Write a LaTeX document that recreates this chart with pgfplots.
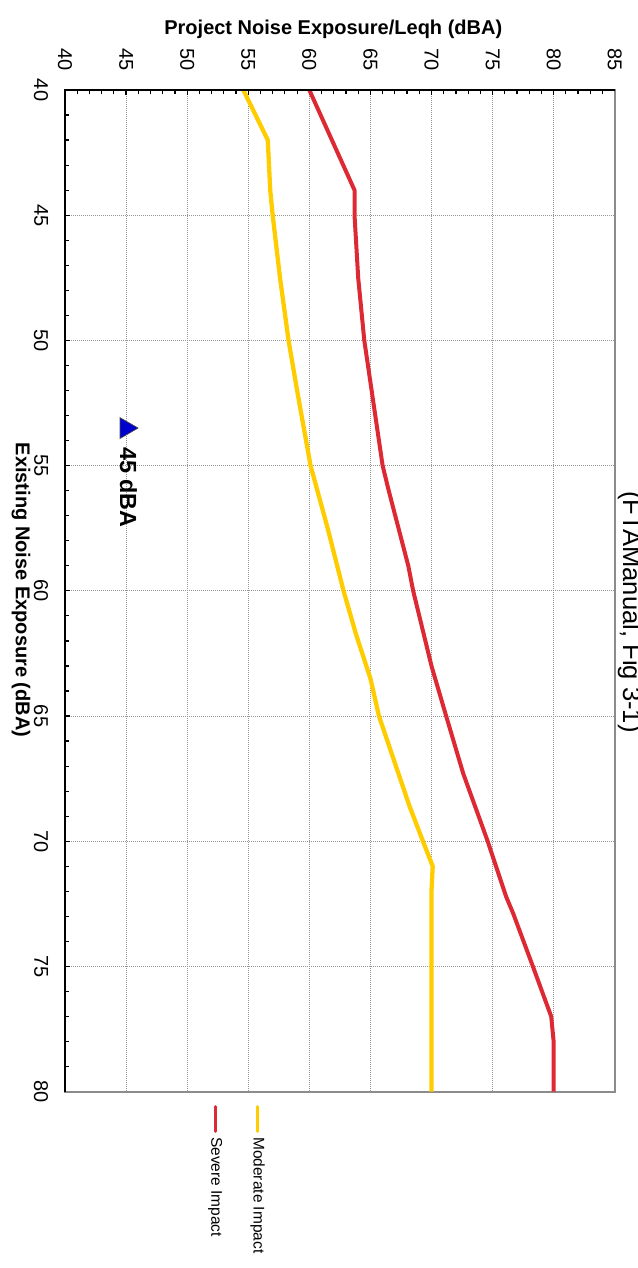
\documentclass[border=0pt]{standalone}
\usepackage{pgfplots}
\usepackage{pgfplotstable}
\pgfplotsset{compat=1.18}
\usepackage{fontspec}
\setmainfont{Liberation Sans}
\definecolor{modyellow}{RGB}{255,204,0}
\definecolor{sevred}{RGB}{221,41,51}
\definecolor{gridgray}{RGB}{150,150,150}
\definecolor{boxgray}{RGB}{140,140,140}
\definecolor{markblue}{RGB}{0,0,204}

% E = existing noise exposure, P = project noise exposure
\pgfplotstableread{
E P
40 54.6
42 56.6
44 56.8
45 57.0
47.5 57.6
50 58.3
52 59.0
55 60.1
57.5 61.5
60 62.8
61.7 63.8
63.5 65.0
65 65.7
68.6 68.2
70 69.3
71 70.1
72 70.0
80 70.0
}\moderate

\pgfplotstableread{
E P
40 60.0
44 63.7
45 63.7
47.5 64.0
50 64.5
51 64.8
55 66.0
56 66.5
59 68.1
60 68.5
63 70.0
65 71.2
67.3 72.6
70 74.6
72.2 76.1
72.9 76.7
75 78.3
77 79.8
78 80.0
80 80.0
}\severe

\begin{document}
\begin{tikzpicture}
\begin{axis}[
  name=ax, at={(0pt,0pt)}, anchor=north west,
  scale only axis, width=412.3pt, height=751.2pt,
  xmin=40, xmax=85, ymin=40, ymax=80, y dir=reverse,
  xtick={40,45,...,85}, ytick={40,45,...,80},
  minor x tick num=4, minor y tick num=4,
  xtick pos=right, ytick pos=left,
  xticklabel pos=right, yticklabel pos=left,
  tick align=inside,
  major tick length=3.75pt, minor tick length=3pt,
  tick style={black, line width=0.9pt},
  grid=major,
  major grid style={gridgray, line width=0.75pt, dash pattern=on 0.75pt off 0.75pt},
  axis line style={boxgray, line width=1.5pt},
  /pgf/number format/assume math mode=true,
  ticklabel style={font=\fontsize{15}{18}\selectfont, inner sep=0pt, rotate=-90},
  xticklabel style={anchor=east},
  yticklabel style={anchor=north},
  xticklabel shift=14.25pt, yticklabel shift=12.5pt,
]
\addplot[modyellow, line width=3.2pt, line join=round] table[x=P, y=E] {\moderate};
\addplot[sevred, line width=3pt, line join=round] table[x=P, y=E] {\severe};
\addplot[only marks, mark=triangle*, mark size=9pt,
  mark options={rotate=-90, fill=markblue, draw=black!70, line width=0.5pt}]
  coordinates {(45,53.5)};
\node[rotate=-90, anchor=west, inner sep=0pt, font=\bfseries\fontsize{17.5}{20}\selectfont]
  at (axis cs:45.2,54.25) {45 dBA};
\end{axis}
\draw[black, line width=1.5pt] (0pt,-751.2pt) -- (0pt,0pt) -- (412.3pt,0pt);
% legend
\draw[sevred, line width=2.3pt, line cap=round] (112.7pt,-762.5pt) -- (112.7pt,-781pt);
\draw[modyellow, line width=2.3pt, line cap=round] (144.5pt,-762.5pt) -- (144.5pt,-781pt);
\node[rotate=-90, anchor=west, inner sep=0pt, font=\fontsize{11.6}{14}\selectfont]
  at (112.7pt,-785.25pt) {Severe Impact};
\node[rotate=-90, anchor=west, inner sep=0pt, font=\fontsize{11.6}{14}\selectfont]
  at (144.5pt,-785.25pt) {Moderate Impact};
% labels
\node[anchor=base, inner sep=0pt, font=\bfseries\fontsize{15}{18}\selectfont]
  at (201.2pt,42pt) {Project Noise Exposure/Leqh (dBA)};
\node[anchor=base, rotate=-90, inner sep=0pt, font=\bfseries\fontsize{15}{18}\selectfont]
  at (-36.75pt,-375pt) {Existing Noise Exposure (dBA)};
\node[anchor=base, rotate=-90, inner sep=0pt, font=\fontsize{19.2}{22}\selectfont]
  at (418.5pt,-391.5pt) {(FTAManual, Fig 3-1)};
\pgfresetboundingbox
\path[use as bounding box] (-48.75pt,67.5pt) rectangle (429.75pt,-883.5pt);
\end{tikzpicture}
\end{document}
